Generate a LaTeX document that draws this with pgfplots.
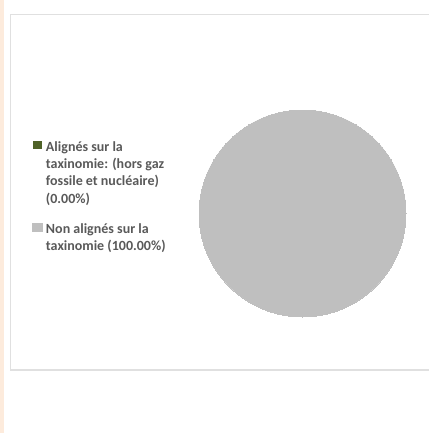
\documentclass[border=0pt]{standalone}
\usepackage{fontspec}
\setmainfont{Carlito}
\usepackage{pgfplots}
\pgfplotsset{compat=1.18}
\definecolor{piegray}{HTML}{BFBFBF}
\definecolor{taxgreen}{HTML}{4F6228}
\definecolor{txtgray}{HTML}{595959}
\definecolor{framegray}{HTML}{E0E0E0}
\definecolor{peach}{HTML}{FDEBDC}
\newcommand{\legwidth}{\pgfpathrectangle{\pgfpointorigin}{\pgfpoint{11.5bp}{0.1bp}}\pgfusepath{use as bounding box}}
\begin{document}
\begin{tikzpicture}
\begin{axis}[
  width=429bp, height=433bp, scale only axis,
  xmin=0, xmax=429, ymin=0, ymax=433, y dir=reverse,
  hide axis, clip=false,
  legend style={at={(axis cs:32.5,139.5)}, anchor=north west, draw=none, fill=none,
    inner sep=0pt, outer sep=0pt,
    font=\bfseries\fontsize{14bp}{17.3bp}\selectfont, text=txtgray,
    cells={anchor=base west, align=left}, row sep=15bp},
  legend cell align=left,
]
% frame and page strip (decoration)
\fill[peach] (axis cs:0,0) rectangle (axis cs:3.5,433);
\draw[framegray, line width=1.3bp] (axis cs:429,14.5) -- (axis cs:10.5,14.5) -- (axis cs:10.5,370) -- (axis cs:429,370);
% slice 1: Alignés (0.00%) -- nothing visible
\addplot[draw=none, fill=taxgreen,
  legend image code/.code={\legwidth\fill[taxgreen] (0bp,23.7bp) rectangle (9.5bp,31.7bp);}]
  coordinates {(302.5,213.5)};
\addlegendentry{{Alignés sur la\\taxinomie: (hors gaz\\fossile et nucléaire)\\(0.00\%)}}
% slice 2: Non alignés (100.00%) -- full disc
\addplot[only marks, mark=*, mark size=103.5bp, color=piegray, mark options={draw=piegray, fill=piegray, line width=0pt},
  legend image code/.code={\legwidth\fill[piegray] (0bp,6.4bp) rectangle (9.5bp,14.4bp);}]
  coordinates {(302.5,213.5)};
\addlegendentry{{Non alignés sur la\\taxinomie (100.00\%)}}
\end{axis}
\end{tikzpicture}
\end{document}
